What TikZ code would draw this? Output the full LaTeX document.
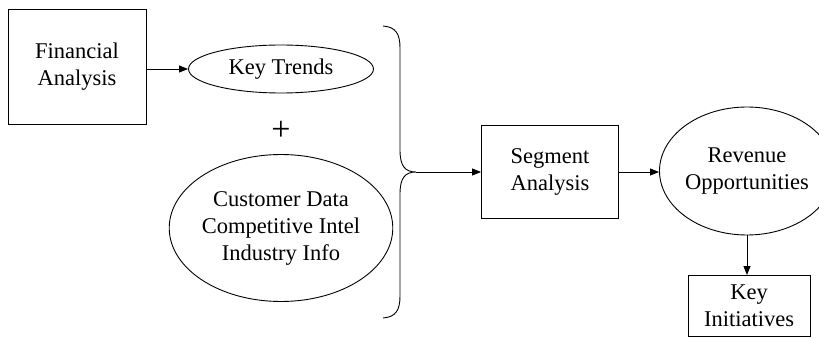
\documentclass[tikz,border=0pt]{standalone}
\usepackage{fontspec}
\setmainfont{Liberation Serif}
\usetikzlibrary{shapes.geometric,arrows.meta}
\begin{document}
\begin{tikzpicture}[x=1pt,y=-1pt,
  every node/.style={font=\fontsize{22.5}{27}\selectfont, align=center, inner sep=0pt},
  boxnode/.style={draw, line width=0.9pt, rectangle},
  ovalnode/.style={draw, line width=0.9pt, ellipse},
  conn/.style={line width=0.9pt, -{Triangle[length=9pt,width=7pt]}},
  bracepath/.style={line width=0.9pt}]
\useasboundingbox (0,0) rectangle (819,339);
\node[boxnode, minimum width=138pt, minimum height=115pt] (fin) at (77,67) {Financial\\Analysis};
\node[ovalnode, minimum width=185pt, minimum height=48pt] (trends) at (281,69) {Key Trends};
\node (plus) at (281,131) {\fontsize{34}{34}\selectfont +};
\node[ovalnode, minimum width=212pt, minimum height=147pt] (cust) at (281,228) {Customer Data\\Competitive Intel\\Industry Info};
\coordinate (tip) at (416,172);
\draw[bracepath] (383,26) .. controls (396,27) and (400,34) .. (400,48) -- (400,150) .. controls (400,166) and (405,172) .. (tip)
  .. controls (405,172) and (400,178) .. (400,194) -- (400,296) .. controls (400,310) and (396,317) .. (383,318);
\node[boxnode, minimum width=137pt, minimum height=93pt] (seg) at (550,172) {Segment\\Analysis};
\node[ovalnode, minimum width=136pt, minimum height=128pt] (rev) at (747,171) {Revenue\\Opportunities};
\node[boxnode, minimum width=122pt, minimum height=61pt] (init) at (749,306) {Key\\Initiatives};
\draw[conn] (fin.east |- trends.west) -- (trends.west);
\draw[conn] (tip) -- (seg.west);
\draw[conn] (seg.east) -- (rev.west |- seg.east);
\draw[conn] (rev.south) -- (init.north -| rev.south);
\end{tikzpicture}
\end{document}
